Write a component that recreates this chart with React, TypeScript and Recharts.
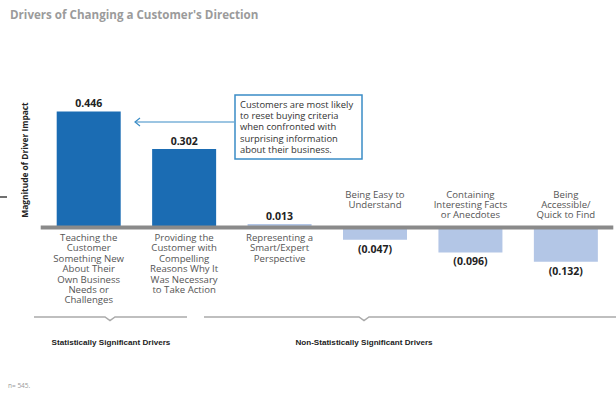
import React from "react";
import { BarChart, Bar, XAxis, YAxis, ReferenceLine, LabelList, Cell } from "recharts";

const title = "Drivers of Changing a Customer's Direction";
const yAxisTitle = "Magnitude of Driver Impact";
const categories = [
  "Teaching the Customer Something New About Their Own Business Needs or Challenges",
  "Providing the Customer with Compelling Reasons Why It Was Necessary to Take Action",
  "Representing a Smart/Expert Perspective",
  "Being Easy to Understand",
  "Containing Interesting Facts or Anecdotes",
  "Being Accessible/ Quick to Find",
];
const categoryLines = [
  ["Teaching the", "Customer", "Something New", "About Their", "Own Business", "Needs or", "Challenges"],
  ["Providing the", "Customer with", "Compelling", "Reasons Why It", "Was Necessary", "to Take Action"],
  ["Representing a", "Smart/Expert", "Perspective"],
  ["Being Easy to", "Understand"],
  ["Containing", "Interesting Facts", "or Anecdotes"],
  ["Being", "Accessible/", "Quick to Find"],
];
const impact = [0.446, 0.302, 0.013, -0.047, -0.096, -0.132];
const significant = [true, true, false, false, false, false];
const groups = ["Statistically Significant Drivers", "Non-Statistically Significant Drivers"];
const noteLines = [
  "Customers are most likely",
  "to reset buying criteria",
  "when confronted with",
  "surprising information",
  "about their business.",
];
const sampleSize = "n= 545.";

const data = categories.map((name, i) => ({
  name,
  lines: categoryLines[i],
  impact: impact[i],
  significant: significant[i],
}));

const DARK = "#1b6cb3";
const LIGHT = "#b3c6e6";
const FONT = "'Open Sans', sans-serif";

const fmt = (v: number) => (v < 0 ? `(${Math.abs(v).toFixed(3)})` : v.toFixed(3));

const ValueLabel = (props: any) => {
  const { x, y, width, height, value } = props;
  const top = Math.min(y, y + height);
  const bottom = Math.max(y, y + height);
  const cx = x + width / 2;
  const ty = value >= 0 ? top - 7 : bottom + 10;
  return (
    <text x={cx} y={ty} textAnchor="middle" fontFamily={FONT} fontSize={10.5} fontWeight={700} fill="#222" dominantBaseline="middle">
      {fmt(value)}
    </text>
  );
};

const CategoryLabel = (props: any) => {
  const { x, y, width, height, index } = props;
  const v = impact[index];
  const base = v >= 0 ? Math.max(y, y + height) : Math.min(y, y + height);
  const cx = x + width / 2;
  const lines = categoryLines[index];
  const start = v >= 0 ? base + 11 : base - 32.5;
  return (
    <text textAnchor="middle" fontFamily={FONT} fontSize={9.6} fill="#555">
      {lines.map((l, i) => (
        <tspan key={i} x={cx} y={start + i * 10.4} dominantBaseline="middle">
          {l}
        </tspan>
      ))}
    </text>
  );
};

const Bracket = ({ x1, x2, mid, y }: { x1: number; x2: number; mid: number; y: number }) => (
  <path
    d={`M${x1},${y} L${mid - 5},${y} L${mid},${y + 3.5} L${mid + 5},${y} L${x2},${y}`}
    fill="none"
    stroke="#aaa"
    strokeWidth={1.5}
  />
);

export default function App() {
  return (
    <div style={{ position: "fixed", left: 0, top: 0, width: 616, height: 399, background: "#fff" }}>
      <BarChart
        width={616}
        height={399}
        data={data}
        margin={{ top: 84.5, right: 2.7, bottom: 119.5, left: 40.7 }}
        barSize={64}
      >
        <XAxis dataKey="name" hide />
        <YAxis hide domain={[-0.2, 0.55]} />
        <Bar dataKey="impact" isAnimationActive={false}>
          {data.map((d, i) => (
            <Cell key={i} fill={d.significant ? DARK : LIGHT} />
          ))}
          <LabelList dataKey="impact" content={ValueLabel} />
          <LabelList dataKey="name" content={CategoryLabel} />
        </Bar>
        <ReferenceLine y={0} stroke="#8a8a8a" strokeWidth={4} />
      </BarChart>
      <svg
        width={616}
        height={399}
        style={{ position: "absolute", left: 0, top: 0, pointerEvents: "none" }}
      >
        <text x={10} y={19} fontFamily={FONT} fontSize={11.6} fontWeight={700} fill="#9b9b9b">
          {title}
        </text>
        <text
          x={0}
          y={0}
          transform="translate(28,160) rotate(-90)"
          textAnchor="middle"
          fontFamily={FONT}
          fontSize={8.4}
          fontWeight={700}
          fill="#222"
        >
          {yAxisTitle}
        </text>
        <line x1={0} y1={197} x2={7} y2={197} stroke="#111" strokeWidth={1.2} />
        <rect x={235} y={95} width={127} height={64} fill="#fff" stroke="#3a8cc6" strokeWidth={1.5} />
        {noteLines.map((l, i) => (
          <text key={i} x={240} y={105.5 + i * 11.2} fontFamily={FONT} fontSize={9.4} fill="#333" dominantBaseline="middle">
            {l}
          </text>
        ))}
        <line x1={234} y1={122} x2={135} y2={122} stroke="#3a8cc6" strokeWidth={1.2} />
        <path d="M140,118 L135,122 L140,126" fill="none" stroke="#3a8cc6" strokeWidth={1.2} />
        <Bracket x1={34} x2={187} mid={110} y={317} />
        <Bracket x1={204} x2={616} mid={364} y={317} />
        <text x={111} y={343} textAnchor="middle" fontFamily="'Liberation Sans', sans-serif" fontSize={8.1} fontWeight={700} fill="#222" dominantBaseline="middle">
          {groups[0]}
        </text>
        <text x={364} y={343} textAnchor="middle" fontFamily="'Liberation Sans', sans-serif" fontSize={8.1} fontWeight={700} fill="#222" dominantBaseline="middle">
          {groups[1]}
        </text>
        <text x={8} y={386} fontFamily={FONT} fontSize={6.5} fill="#999" dominantBaseline="middle">
          {sampleSize}
        </text>
      </svg>
    </div>
  );
}
